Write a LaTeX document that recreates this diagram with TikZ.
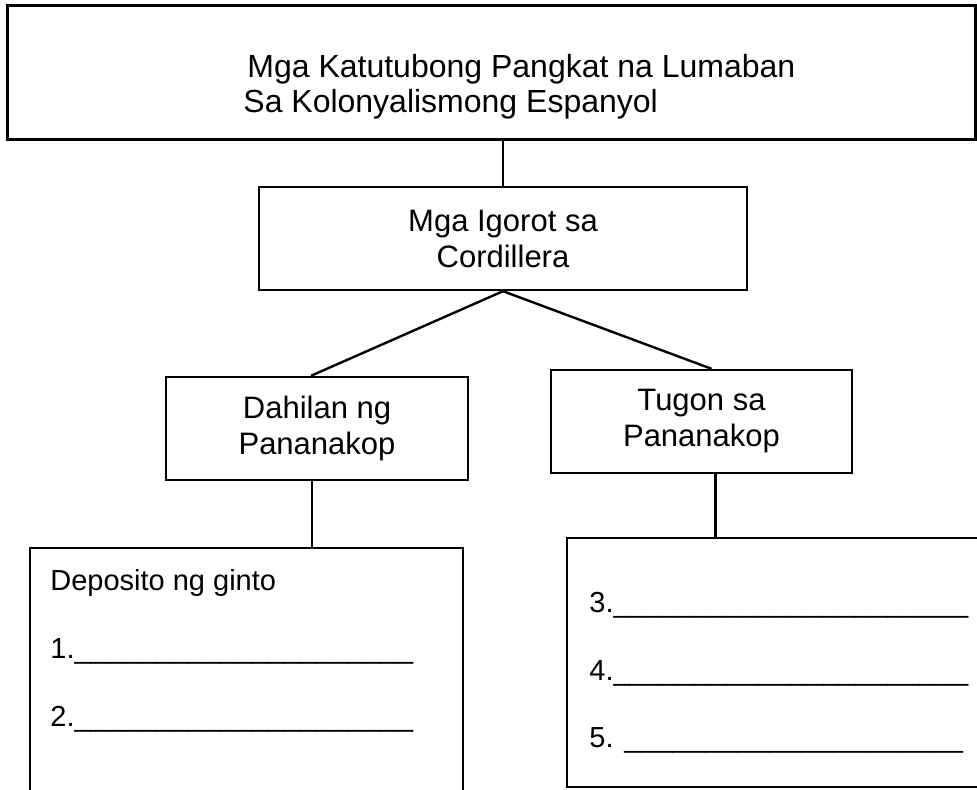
\documentclass[tikz,border=0pt]{standalone}
\usepackage{fontspec}
\setmainfont{Liberation Sans}
\tikzset{
    box/.style={draw, rectangle, line width=1.2pt, inner sep=0pt, align=center},
    link/.style={line width=1.2pt},
    boxtext/.style={font=\fontsize{15.5}{18}\selectfont},
    titletext/.style={font=\fontsize{16}{18.5}\selectfont, anchor=base west, inner sep=0pt},
    itemtext/.style={font=\fontsize{14.5}{17}\selectfont, anchor=base west, inner sep=0pt}
}
\newcommand{\answerline}[1]{\foreach \k in {1,...,#1}{\_}}

\begin{document}
\begin{tikzpicture}[x=0.5pt, y=-0.5pt]
        \clip
            (0,0) rectangle (977,790);
        % boxes
        \node[box, line width=1.5pt, minimum width=484pt, minimum height=67pt]
            (title) at (491,73) {};
        \node[titletext] (titleA) at (247,78) {Mga Katutubong Pangkat na Lumaban};
        \node[titletext] (titleB) at (243,113) {Sa Kolonyalismong Espanyol};
        \node[box, boxtext, minimum width=244pt, minimum height=51.5pt]
            (igorot) at (503,238.5) {Mga Igorot sa\\Cordillera};
        \node[box, boxtext, minimum width=150.75pt, minimum height=51.5pt]
            (dahilan) at (317,428.5) {Dahilan ng\\Pananakop};
        \node[box, boxtext, minimum width=150.5pt, minimum height=51.5pt]
            (tugon) at (701.5,421.5) {Tugon sa\\Pananakop};
        \node[box, minimum width=216.5pt, minimum height=141pt]
            (listA) at (246.5,689) {};
        \node[box, minimum width=216.5pt, minimum height=124.5pt]
            (listB) at (783.5,662.5) {};
        % connectors
        \draw[link]
            (title.south -| igorot.north) -- (igorot.north);
        \draw[link]
            (igorot.south) -- ([xshift=-3pt]dahilan.north);
        \draw[link]
            (igorot.south) -- ([xshift=5pt]tugon.north);
        \draw[link]
            ([xshift=-2.5pt]dahilan.south) -- ([xshift=-2.5pt]dahilan.south |- listA.north);
        \draw[link]
            ([xshift=7pt]tugon.south) -- ([xshift=7pt]tugon.south |- listB.north);
        % answer lines
        \node[itemtext] (gold) at (50,590) {Deposito ng ginto};
        \node[itemtext] (item1) at (50,658) {1.\answerline{21}};
        \node[itemtext] (item2) at (50,726) {2.\answerline{21}};
        \node[itemtext] (item3) at (589,612) {3.\answerline{22}};
        \node[itemtext] (item4) at (589,680) {4.\answerline{22}};
        \node[itemtext] (item5) at (589,747) {5. \answerline{21}};
    \end{tikzpicture}
\end{document}
